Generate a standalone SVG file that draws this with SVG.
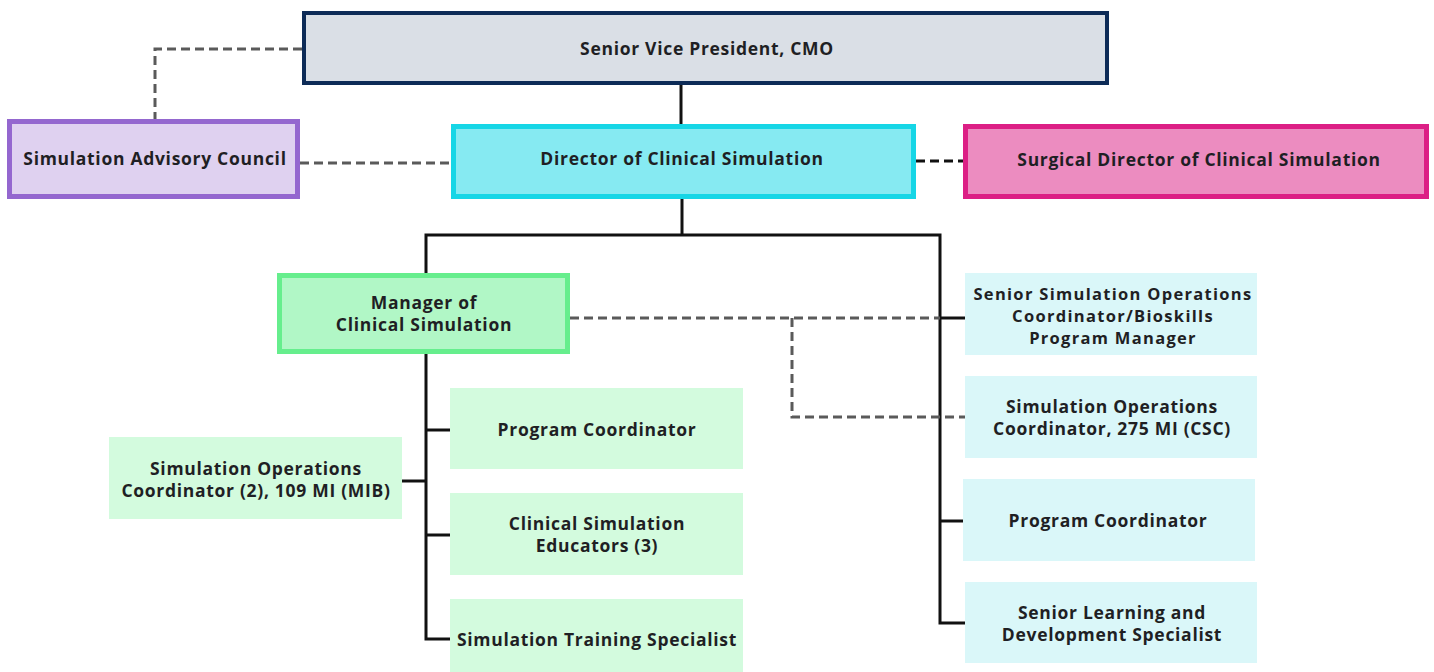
<svg xmlns="http://www.w3.org/2000/svg" width="1434" height="672" viewBox="0 0 1434 672">
  <style>
    text { font-family: "Open Sans", "Liberation Sans", sans-serif; font-weight: 700; font-size: 17.5px; letter-spacing: 0.7px; fill: #1f1f24; text-anchor: middle; dominant-baseline: central; }
    .tight { font-size: 16.5px; letter-spacing: 1.3px; }
    .solid { stroke: #111; stroke-width: 3; fill: none; }
    .dash { stroke: #5a5a5a; stroke-width: 3; fill: none; stroke-dasharray: 9 5; }
    .dash-dark { stroke: #111; stroke-width: 3; fill: none; stroke-dasharray: 9 5; }
    .leaf-green { fill: #d3fbde; }
    .leaf-cyan { fill: #daf7f9; }
  </style>

  <!-- reporting lines -->
  <g id="connectors">
    <path class="dash" d="M302 49 H155 V119"/>
    <path class="dash" d="M300 163 H451"/>
    <path class="dash-dark" d="M916 161 H963"/>
    <path class="solid" d="M681 85 V124"/>
    <path class="solid" d="M682 199 V235"/>
    <path class="solid" d="M426 320 V235 H940 V623 H965"/>
    <path class="solid" d="M940 318 H965"/>
    <path class="solid" d="M940 521 H963"/>
    <path class="solid" d="M426 354 V639 H450"/>
    <path class="solid" d="M426 430 H450"/>
    <path class="solid" d="M426 535 H450"/>
    <path class="solid" d="M402 481 H426"/>
    <path class="dash" d="M570 318 H940"/>
    <path class="dash" d="M792 318 V417 H965"/>
  </g>

  <g id="svp">
    <rect x="304" y="13" width="803" height="70" fill="#dadfe6" stroke="#0d2b57" stroke-width="4"/>
    <text x="707" y="48">Senior Vice President, CMO</text>
  </g>

  <g id="advisory-council">
    <rect x="9.5" y="121.5" width="288" height="75" fill="#dfd1f0" stroke="#9467cf" stroke-width="5"/>
    <text x="155" y="158">Simulation Advisory Council</text>
  </g>

  <g id="director">
    <rect x="453.5" y="126.5" width="460" height="70" fill="#86eaf2" stroke="#16d6e6" stroke-width="5"/>
    <text x="682" y="158">Director of Clinical Simulation</text>
  </g>

  <g id="surgical-director">
    <rect x="965.5" y="126.5" width="461" height="70" fill="#ec8cc0" stroke="#dc1f85" stroke-width="5"/>
    <text x="1199" y="159">Surgical Director of Clinical Simulation</text>
  </g>

  <g id="manager">
    <rect x="279.5" y="275.5" width="288" height="76" fill="#b1f7c6" stroke="#66ee8d" stroke-width="5"/>
    <text x="424" y="302">Manager of</text>
    <text x="424" y="324">Clinical Simulation</text>
  </g>

  <g id="program-coordinator-left">
    <rect class="leaf-green" x="450" y="388" width="293" height="81"/>
    <text x="597" y="429">Program Coordinator</text>
  </g>

  <g id="sim-ops-coordinator-mib">
    <rect class="leaf-green" x="109" y="437" width="293" height="82"/>
    <text x="256" y="468">Simulation Operations</text>
    <text x="256" y="490">Coordinator (2), 109 MI (MIB)</text>
  </g>

  <g id="clinical-sim-educators">
    <rect class="leaf-green" x="450" y="493" width="293" height="82"/>
    <text x="597" y="523">Clinical Simulation</text>
    <text x="597" y="545">Educators (3)</text>
  </g>

  <g id="sim-training-specialist">
    <rect class="leaf-green" x="450" y="599" width="293" height="73"/>
    <text x="597" y="639">Simulation Training Specialist</text>
  </g>

  <g id="senior-sim-ops">
    <rect class="leaf-cyan" x="965" y="273" width="292" height="82"/>
    <text class="tight" x="1113" y="293">Senior Simulation Operations</text>
    <text class="tight" x="1113" y="315">Coordinator/Bioskills</text>
    <text class="tight" x="1113" y="337">Program Manager</text>
  </g>

  <g id="sim-ops-coordinator-csc">
    <rect class="leaf-cyan" x="965" y="376" width="292" height="82"/>
    <text x="1112" y="406">Simulation Operations</text>
    <text x="1112" y="428">Coordinator, 275 MI (CSC)</text>
  </g>

  <g id="program-coordinator-right">
    <rect class="leaf-cyan" x="963" y="479" width="292" height="82"/>
    <text x="1108" y="520">Program Coordinator</text>
  </g>

  <g id="senior-learning">
    <rect class="leaf-cyan" x="965" y="582" width="292" height="81"/>
    <text x="1112" y="612">Senior Learning and</text>
    <text x="1112" y="634">Development Specialist</text>
  </g>
</svg>
